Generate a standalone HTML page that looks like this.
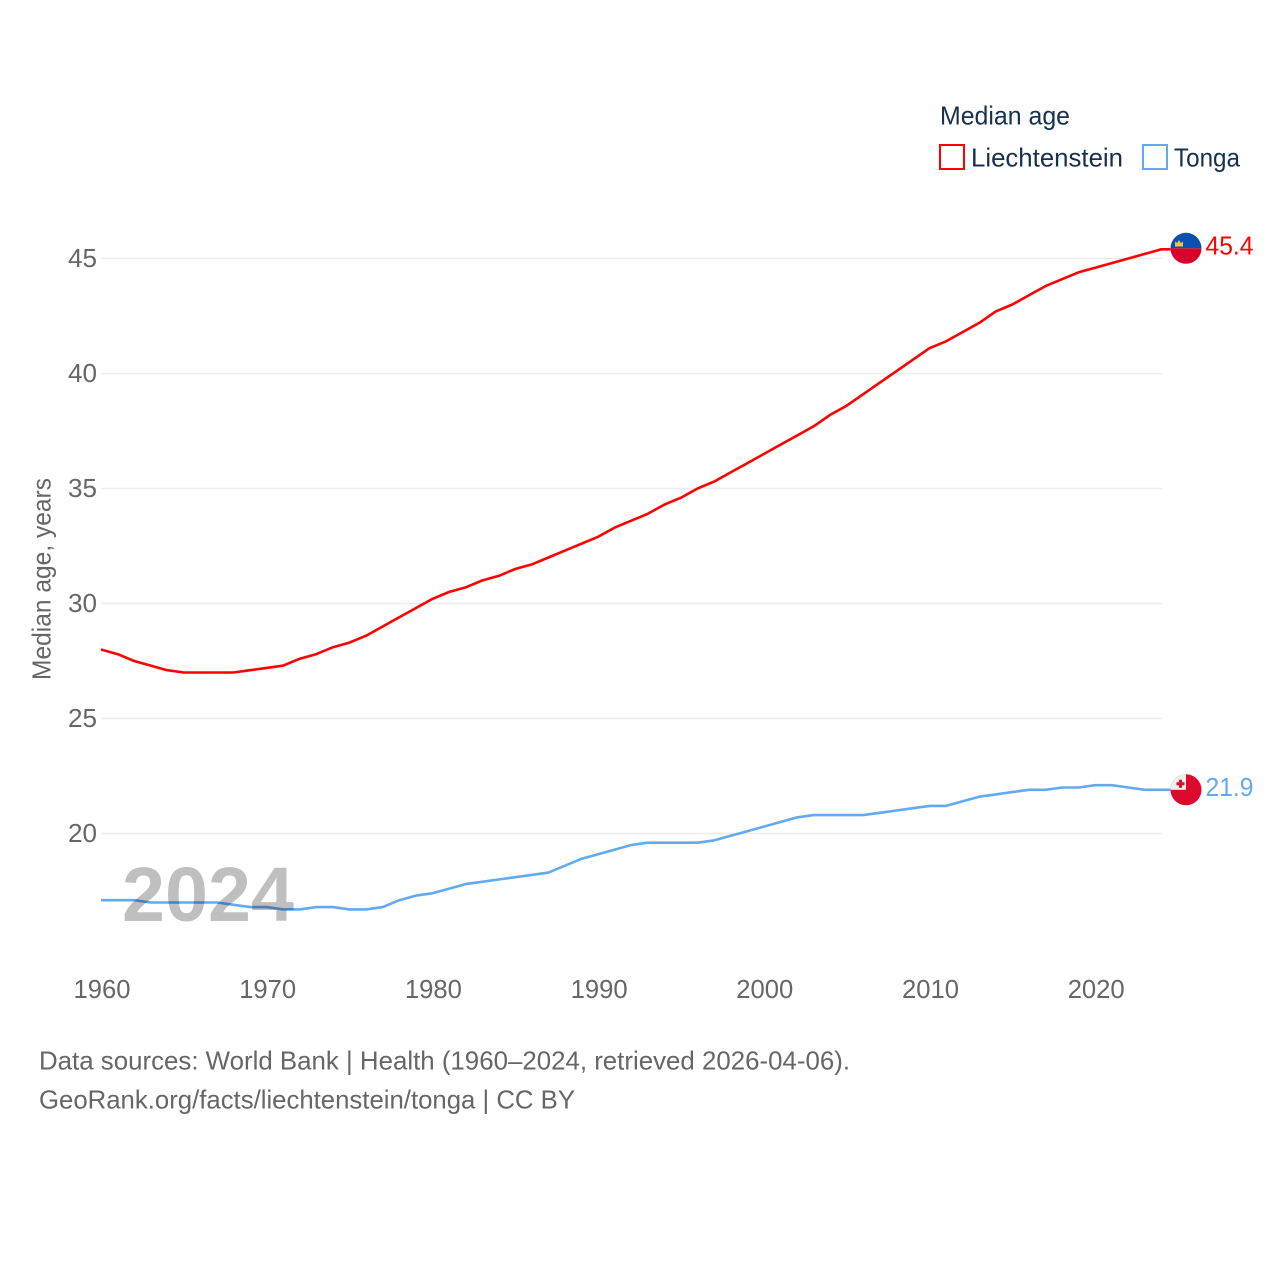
<!DOCTYPE html>
<html lang="en">
<head>
<meta charset="utf-8">
<title>Median age: Liechtenstein and Tonga</title>
<style>
html,body{margin:0;padding:0;background:#fff;}
svg{display:block;}
text{font-family:"Liberation Sans",sans-serif;}
</style>
</head>
<body>
<svg id="chart" xmlns="http://www.w3.org/2000/svg" width="1280" height="1280" viewBox="0 0 1280 1280">
  <defs>
    <clipPath id="clip-li"><circle id="clip-li-c" cx="0" cy="0" r="15.5"/></clipPath>
    <clipPath id="clip-to"><circle id="clip-to-c" cx="0" cy="0" r="15.5"/></clipPath>
  </defs>
  <rect x="0" y="0" width="1280" height="1280" fill="#fff"/>
  <g id="grid"></g>
  <g id="yticks"></g>
  <g id="xticks"></g>
  <text transform="translate(50.5,680) rotate(-90)" font-size="26" fill="#666" textLength="202" lengthAdjust="spacingAndGlyphs">Median age, years</text>
  <g id="series"></g>
  <text x="122" y="921" font-size="77" font-weight="700" fill="#000" fill-opacity="0.25" textLength="172" lengthAdjust="spacingAndGlyphs">2024</text>
  <g id="ends"></g>

  <g>
    <text x="940" y="124.5" font-size="26" fill="#17304f" textLength="130" lengthAdjust="spacingAndGlyphs">Median age</text>
    <rect x="940" y="145" width="24" height="24" fill="none" stroke="#ff0000" stroke-width="2"/>
    <text x="971" y="166.5" font-size="26" fill="#17304f" textLength="152" lengthAdjust="spacingAndGlyphs">Liechtenstein</text>
    <rect x="1143" y="145" width="24" height="24" fill="none" stroke="#63a9f1" stroke-width="2"/>
    <text x="1174" y="166.5" font-size="26" fill="#17304f" textLength="66" lengthAdjust="spacingAndGlyphs">Tonga</text>
  </g>

  <text x="39" y="1069.5" font-size="26" fill="#666" textLength="811" lengthAdjust="spacingAndGlyphs">Data sources: World Bank | Health (1960–2024, retrieved 2026-04-06).</text>
  <text x="39" y="1108.5" font-size="26" fill="#666" textLength="536" lengthAdjust="spacingAndGlyphs">GeoRank.org/facts/liechtenstein/tonga | CC BY</text>
</svg>
<script>
const years = [1960,1961,1962,1963,1964,1965,1966,1967,1968,1969,1970,1971,1972,1973,1974,1975,1976,1977,1978,1979,1980,1981,1982,1983,1984,1985,1986,1987,1988,1989,1990,1991,1992,1993,1994,1995,1996,1997,1998,1999,2000,2001,2002,2003,2004,2005,2006,2007,2008,2009,2010,2011,2012,2013,2014,2015,2016,2017,2018,2019,2020,2021,2022,2023,2024];
const liechtenstein = [28.0,27.8,27.5,27.3,27.1,27.0,27.0,27.0,27.0,27.1,27.2,27.3,27.6,27.8,28.1,28.3,28.6,29.0,29.4,29.8,30.2,30.5,30.7,31.0,31.2,31.5,31.7,32.0,32.3,32.6,32.9,33.3,33.6,33.9,34.3,34.6,35.0,35.3,35.7,36.1,36.5,36.9,37.3,37.7,38.2,38.6,39.1,39.6,40.1,40.6,41.1,41.4,41.8,42.2,42.7,43.0,43.4,43.8,44.1,44.4,44.6,44.8,45.0,45.2,45.4];
const tonga = [17.1,17.1,17.1,17.0,17.0,17.0,17.0,17.0,16.9,16.8,16.8,16.7,16.7,16.8,16.8,16.7,16.7,16.8,17.1,17.3,17.4,17.6,17.8,17.9,18.0,18.1,18.2,18.3,18.6,18.9,19.1,19.3,19.5,19.6,19.6,19.6,19.6,19.7,19.9,20.1,20.3,20.5,20.7,20.8,20.8,20.8,20.8,20.9,21.0,21.1,21.2,21.2,21.4,21.6,21.7,21.8,21.9,21.9,22.0,22.0,22.1,22.1,22.0,21.9,21.9];
const yTickValues = [20,25,30,35,40,45];
const xTickValues = [1960,1970,1980,1990,2000,2010,2020];

const NS = 'http://www.w3.org/2000/svg';
const xScale = function (year) { return 101 + (year - 1960) * 16.57; };
const yScale = function (value) { return 833.5 - (value - 20) * 23; };
const make = function (tag, parent) {
  const el = document.createElementNS(NS, tag);
  parent.appendChild(el);
  return el;
};

const grid = document.getElementById('grid');
const yticks = document.getElementById('yticks');
const xticks = document.getElementById('xticks');
const series = document.getElementById('series');
const ends = document.getElementById('ends');

yTickValues.forEach(function (v) {
  const line = make('line', grid);
  
  
  line.setAttribute('x1', 101);
  line.setAttribute('x2', 1162);
  line.setAttribute('y1', yScale(v));
  line.setAttribute('y2', yScale(v));
  line.setAttribute('stroke', '#ececec');
  line.setAttribute('stroke-width', '1.5');
  const label = make('text', yticks);
  
  
  label.setAttribute('x', 68);
  label.setAttribute('y', yScale(v) + 8.5);
  label.setAttribute('font-size', '26');
  label.setAttribute('fill', '#666');
  label.setAttribute('textLength', '29');
  label.setAttribute('lengthAdjust', 'spacingAndGlyphs');
  label.textContent = String(v);
});

xTickValues.forEach(function (y) {
  const label = make('text', xticks);
  
  
  label.setAttribute('x', xScale(y) - 27.5);
  label.setAttribute('y', 998);
  label.setAttribute('font-size', '26');
  label.setAttribute('fill', '#666');
  label.setAttribute('textLength', '57');
  label.setAttribute('lengthAdjust', 'spacingAndGlyphs');
  label.textContent = String(y);
});

const linePoints = function (values) {
  const pts = years.map(function (yr, i) {
    return xScale(yr).toFixed(2) + ',' + yScale(values[i]).toFixed(2);
  });
  const last = values[values.length - 1];
  pts.push((xScale(years[years.length - 1]) + 9) + ',' + yScale(last).toFixed(2));
  return pts.join(' ');
};

const redLine = make('polyline', series);


redLine.setAttribute('points', linePoints(liechtenstein));
redLine.setAttribute('fill', 'none');
redLine.setAttribute('stroke', '#ff0000');
redLine.setAttribute('stroke-width', '2.6');
redLine.setAttribute('stroke-linejoin', 'round');

const blueLine = make('polyline', series);


blueLine.setAttribute('points', linePoints(tonga));
blueLine.setAttribute('fill', 'none');
blueLine.setAttribute('stroke', '#63a9f1');
blueLine.setAttribute('stroke-width', '2.6');
blueLine.setAttribute('stroke-linejoin', 'round');

/* Liechtenstein flag and value */
const liValue = liechtenstein[liechtenstein.length - 1];
const liY = yScale(liValue) - 1;
const liX = 1186;
document.getElementById('clip-li-c').setAttribute('cx', liX);
document.getElementById('clip-li-c').setAttribute('cy', liY);
const liFlag = make('g', ends);


liFlag.setAttribute('clip-path', 'url(#clip-li)');
const liBlue = make('rect', liFlag);
liBlue.setAttribute('x', liX - 16);
liBlue.setAttribute('y', liY - 16);
liBlue.setAttribute('width', 32);
liBlue.setAttribute('height', 16);
liBlue.setAttribute('fill', '#0b50ae');
const liRed = make('rect', liFlag);
liRed.setAttribute('x', liX - 16);
liRed.setAttribute('y', liY);
liRed.setAttribute('width', 32);
liRed.setAttribute('height', 16);
liRed.setAttribute('fill', '#d8002a');
const liCrown = make('path', liFlag);
liCrown.setAttribute('d', 'M' + (liX - 11) + ' ' + (liY - 1.8) + 'v-5l2.2 1.5 1.8-3 1.8 3 2.2-1.5v5z');
liCrown.setAttribute('fill', '#f4c53d');
const liLabel = make('text', ends);


liLabel.setAttribute('x', 1205.5);
liLabel.setAttribute('y', liY + 6);
liLabel.setAttribute('font-size', '26');
liLabel.setAttribute('fill', '#ff0000');
liLabel.setAttribute('textLength', '48');
liLabel.setAttribute('lengthAdjust', 'spacingAndGlyphs');
liLabel.textContent = liValue.toFixed(1);

/* Tonga flag and value */
const toValue = tonga[tonga.length - 1];
const toY = yScale(toValue);
const toX = 1186;
document.getElementById('clip-to-c').setAttribute('cx', toX);
document.getElementById('clip-to-c').setAttribute('cy', toY);
const toFlag = make('g', ends);


toFlag.setAttribute('clip-path', 'url(#clip-to)');
const toRed = make('rect', toFlag);
toRed.setAttribute('x', toX - 16);
toRed.setAttribute('y', toY - 16);
toRed.setAttribute('width', 32);
toRed.setAttribute('height', 32);
toRed.setAttribute('fill', '#dc0a2d');
const toCanton = make('rect', toFlag);
toCanton.setAttribute('x', toX - 16);
toCanton.setAttribute('y', toY - 16);
toCanton.setAttribute('width', 16);
toCanton.setAttribute('height', 16);
toCanton.setAttribute('fill', '#efefef');
const toCross = make('path', toFlag);
toCross.setAttribute('d', 'M' + (toX - 7) + ' ' + (toY - 10) + 'h3v2.5h2.5v3h-2.5v2.5h-3v-2.5h-2.5v-3h2.5z');
toCross.setAttribute('fill', '#dc0a2d');
const toLabel = make('text', ends);


toLabel.setAttribute('x', 1205.5);
toLabel.setAttribute('y', toY + 6);
toLabel.setAttribute('font-size', '26');
toLabel.setAttribute('fill', '#63a9f1');
toLabel.setAttribute('textLength', '48');
toLabel.setAttribute('lengthAdjust', 'spacingAndGlyphs');
toLabel.textContent = toValue.toFixed(1);
</script>
</body>
</html>
